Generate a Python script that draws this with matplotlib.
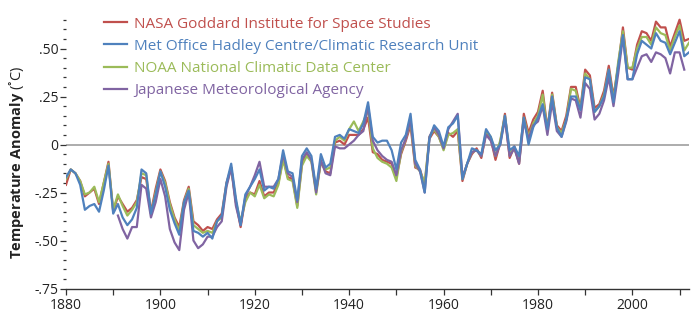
import numpy as np
import matplotlib
matplotlib.use("Agg")
import matplotlib.pyplot as plt
from matplotlib.ticker import FixedLocator

plt.rcParams['font.family'] = ['Open Sans', 'DejaVu Sans']
plt.rcParams['mathtext.fontset'] = 'custom'
plt.rcParams['mathtext.bf'] = 'Open Sans:bold'
plt.rcParams['mathtext.rm'] = 'Open Sans'

years = np.arange(1880, 2013)

# annual temperature anomaly (deg C)
nasa = [
    -0.21, -0.13, -0.15, -0.19, -0.27, -0.25, -0.23, -0.31, -0.20, -0.09,
    -0.35, -0.27, -0.31, -0.35, -0.33, -0.29, -0.17, -0.18, -0.35, -0.23,
    -0.13, -0.19, -0.30, -0.38, -0.43, -0.29, -0.22, -0.40, -0.42, -0.45,
    -0.43, -0.44, -0.39, -0.36, -0.20, -0.12, -0.30, -0.43, -0.28, -0.25,
    -0.26, -0.19, -0.27, -0.25, -0.25, -0.20, -0.07, -0.17, -0.18, -0.32,
    -0.10, -0.05, -0.08, -0.24, -0.09, -0.14, -0.15, 0.01, 0.02, 0.00,
    0.05, 0.05, 0.05, 0.08, 0.14, -0.04, -0.05, -0.08, -0.09, -0.10,
    -0.17, -0.05, 0.02, 0.10, -0.12, -0.13, -0.21, 0.03, 0.07, 0.04,
    -0.02, 0.06, 0.04, 0.07, -0.19, -0.10, -0.05, -0.02, -0.07, 0.06,
    0.03, -0.08, 0.01, 0.16, -0.07, -0.01, -0.10, 0.16, 0.06, 0.13,
    0.17, 0.28, 0.08, 0.27, 0.10, 0.07, 0.15, 0.30, 0.30, 0.19,
    0.39, 0.36, 0.19, 0.21, 0.28, 0.41, 0.25, 0.41, 0.61, 0.40,
    0.39, 0.52, 0.59, 0.58, 0.54, 0.64, 0.61, 0.61, 0.51, 0.58,
    0.65, 0.54, 0.55]

hadley = [
    -0.17, -0.13, -0.15, -0.21, -0.34, -0.32, -0.31, -0.35, -0.24, -0.11,
    -0.36, -0.31, -0.38, -0.42, -0.39, -0.33, -0.13, -0.15, -0.36, -0.26,
    -0.14, -0.22, -0.34, -0.41, -0.47, -0.30, -0.24, -0.45, -0.46, -0.48,
    -0.46, -0.49, -0.40, -0.37, -0.20, -0.10, -0.28, -0.42, -0.26, -0.22,
    -0.18, -0.13, -0.24, -0.22, -0.23, -0.18, -0.03, -0.14, -0.15, -0.29,
    -0.06, -0.02, -0.06, -0.23, -0.05, -0.12, -0.10, 0.04, 0.05, 0.03,
    0.08, 0.07, 0.06, 0.11, 0.22, 0.04, 0.01, 0.02, 0.02, -0.03,
    -0.13, 0.01, 0.05, 0.16, -0.08, -0.13, -0.25, 0.03, 0.10, 0.07,
    -0.01, 0.09, 0.11, 0.15, -0.18, -0.10, -0.02, -0.03, -0.05, 0.08,
    0.04, -0.03, 0.00, 0.15, -0.03, -0.01, -0.06, 0.14, 0.00, 0.09,
    0.14, 0.21, 0.08, 0.25, 0.09, 0.04, 0.13, 0.25, 0.25, 0.18,
    0.35, 0.34, 0.17, 0.20, 0.25, 0.39, 0.22, 0.41, 0.57, 0.34,
    0.34, 0.47, 0.54, 0.52, 0.50, 0.58, 0.54, 0.53, 0.47, 0.53,
    0.59, 0.46, 0.48]

noaa = [
    -0.18, -0.13, -0.15, -0.19, -0.26, -0.25, -0.22, -0.30, -0.20, -0.10,
    -0.34, -0.26, -0.32, -0.37, -0.34, -0.30, -0.15, -0.16, -0.36, -0.25,
    -0.14, -0.20, -0.31, -0.39, -0.45, -0.30, -0.23, -0.42, -0.44, -0.46,
    -0.45, -0.46, -0.40, -0.38, -0.21, -0.12, -0.30, -0.40, -0.30, -0.25,
    -0.27, -0.21, -0.28, -0.26, -0.27, -0.21, -0.08, -0.18, -0.19, -0.33,
    -0.11, -0.06, -0.09, -0.26, -0.09, -0.13, -0.12, 0.02, 0.04, 0.02,
    0.08, 0.12, 0.07, 0.12, 0.18, -0.02, -0.07, -0.09, -0.10, -0.12,
    -0.19, -0.04, 0.03, 0.12, -0.11, -0.14, -0.20, 0.04, 0.08, 0.04,
    -0.03, 0.05, 0.06, 0.08, -0.18, -0.10, -0.04, -0.03, -0.06, 0.07,
    0.04, -0.06, 0.02, 0.15, -0.05, -0.02, -0.09, 0.14, 0.04, 0.11,
    0.15, 0.26, 0.07, 0.26, 0.09, 0.06, 0.13, 0.29, 0.28, 0.18,
    0.37, 0.34, 0.17, 0.20, 0.26, 0.39, 0.23, 0.43, 0.59, 0.40,
    0.40, 0.50, 0.56, 0.56, 0.52, 0.61, 0.58, 0.57, 0.49, 0.56,
    0.62, 0.49, 0.53]

# JMA series starts in 1891 and ends in 2011
jma = [None] * 11 + [
    -0.37, -0.44, -0.49, -0.43, -0.43, -0.21, -0.23, -0.38, -0.30,
    -0.18, -0.27, -0.44, -0.51, -0.55, -0.34, -0.25, -0.50, -0.54, -0.52,
    -0.48, -0.48, -0.43, -0.40, -0.22, -0.12, -0.32, -0.42, -0.27, -0.22,
    -0.16, -0.09, -0.22, -0.22, -0.22, -0.18, -0.05, -0.15, -0.17, -0.30,
    -0.08, -0.04, -0.08, -0.25, -0.08, -0.15, -0.16, -0.01, -0.02, -0.02,
    0.00, 0.02, 0.05, 0.07, 0.20, 0.02, -0.03, -0.06, -0.08, -0.09,
    -0.16, -0.03, 0.03, 0.13, -0.10, -0.14, -0.25, 0.04, 0.09, 0.05,
    -0.02, 0.08, 0.12, 0.16, -0.17, -0.10, -0.04, -0.03, -0.06, 0.05,
    0.02, -0.06, 0.00, 0.13, -0.06, -0.02, -0.10, 0.12, 0.03, 0.10,
    0.12, 0.20, 0.05, 0.22, 0.07, 0.04, 0.12, 0.24, 0.23, 0.14,
    0.32, 0.29, 0.13, 0.16, 0.23, 0.35, 0.20, 0.37, 0.56, 0.34,
    0.34, 0.40, 0.46, 0.47, 0.43, 0.48, 0.47, 0.45, 0.37, 0.48,
    0.48, 0.39, None]
jma = np.array([np.nan if v is None else v for v in jma])

labels = ['NASA Goddard Institute for Space Studies',
          'Met Office Hadley Centre/Climatic Research Unit',
          'NOAA National Climatic Data Center',
          'Japanese Meteorological Agency']
colors = ['#c0504d', '#4f81bd', '#9bbb59', '#8064a2']

fig = plt.figure(figsize=(6.99, 3.22), dpi=100)
fig.patch.set_facecolor('white')
ax = fig.add_axes([66 / 699, 33.5 / 322, 623 / 699, 270.7 / 322])

ax.axhline(0, color='#a6a6a6', lw=1.3, zorder=1)

lw = 1.6
l_nasa, = ax.plot(years, nasa, color=colors[0], lw=lw, zorder=3)
l_noaa, = ax.plot(years, noaa, color=colors[2], lw=lw, zorder=4)
l_jma, = ax.plot(years, jma, color=colors[3], lw=lw, zorder=5)
l_had, = ax.plot(years, hadley, color=colors[1], lw=lw, zorder=6)

ax.set_xlim(1880, 2012)
ax.set_ylim(-0.75, 0.66)

for s in ['top', 'right', 'left']:
    ax.spines[s].set_visible(False)
ax.spines['bottom'].set_color('#333333')
ax.spines['bottom'].set_linewidth(1.0)

ax.set_xticks(np.arange(1880, 2011, 10))
ax.set_xticklabels([str(y) if y % 20 == 0 else '' for y in range(1880, 2011, 10)])
ax.tick_params(axis='x', direction='out', length=4, width=0.9, color='#333333',
               labelsize=10, labelcolor='#222222', pad=3)

yticks = [-0.75, -0.5, -0.25, 0, 0.25, 0.5]
ax.yaxis.set_major_locator(FixedLocator(yticks))
ax.set_yticklabels(['-.75', '-.50', '-.25', '0', '.25', '.50'])
ax.yaxis.set_minor_locator(FixedLocator(np.round(np.arange(-0.75, 0.66, 0.05), 2)))
ax.tick_params(axis='y', which='major', direction='out', length=4, width=0.9,
               color='#333333', labelsize=10, labelcolor='#222222', pad=1.5)
ax.tick_params(axis='y', which='minor', direction='out', length=2, width=0.9,
               color='#333333')

fig.text(17 / 699, 1 - 163 / 322, r'$\bf{Temperature\ Anomaly}$ (˚C)',
         rotation=90, ha='center', va='center', fontsize=10.5, color='#222222')

leg = ax.legend([l_nasa, l_had, l_noaa, l_jma], labels, loc='upper left',
                bbox_to_anchor=(104 / 699, 1 - 16.5 / 322),
                bbox_transform=fig.transFigure, frameon=False, fontsize=11,
                handlelength=1.5, handletextpad=0.45, labelspacing=0.47,
                borderpad=0, borderaxespad=0, labelcolor='linecolor')

fig.savefig('out.png', dpi=100)
